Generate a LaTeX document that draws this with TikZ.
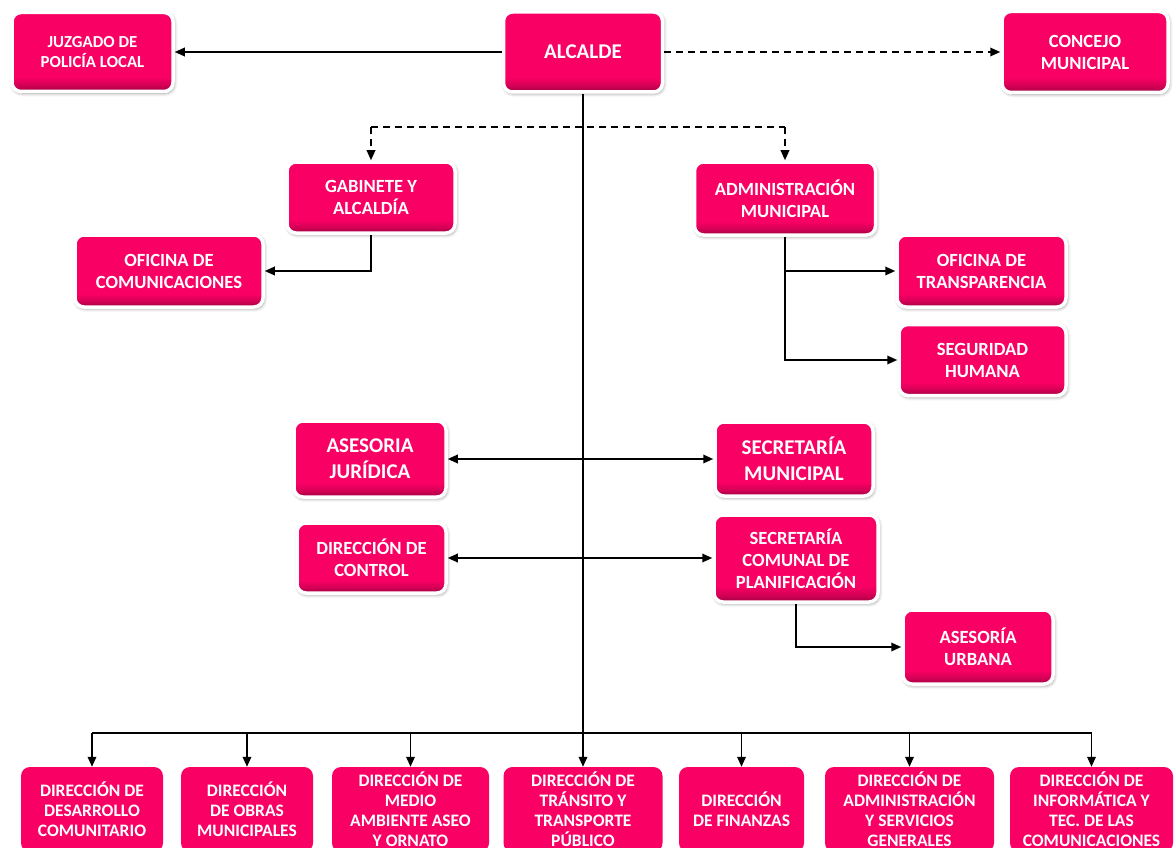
\documentclass[tikz,border=0pt]{standalone}
\usepackage{fontspec}
\setmainfont{Carlito}
\usetikzlibrary{arrows.meta,shadows.blur}
\definecolor{rosa}{RGB}{248,0,100}
\pgfdeclareverticalshading{boxshade}{100bp}{color(0bp)=(rosa!65!black); color(25bp)=(rosa!65!black);
  color(29bp)=(rosa!85!black); color(34bp)=(rosa); color(100bp)=(rosa)}
\tikzstyle{box}=[rectangle, rounded corners=9pt, shading=boxshade, draw=white, line width=3.5pt,
  blur shadow={shadow blur radius=3.5pt, shadow xshift=1pt, shadow yshift=-1.5pt, shadow opacity=45},
  text=white, align=center, inner sep=2pt, font=\fontsize{18.6}{22}\selectfont\bfseries]
\tikzstyle{dirbox}=[rectangle, rounded corners=9pt, fill=rosa, draw=none,
  text=white, align=center, inner sep=2pt, font=\fontsize{17.5}{20}\selectfont\bfseries]
\tikzstyle{small}=[font=\fontsize{16.8}{20}\selectfont\bfseries]
\tikzstyle{big}=[font=\fontsize{21}{26}\selectfont\bfseries]
\tikzstyle{link}=[line width=1.8pt, black]
\tikzstyle{tip}=[-{Triangle[length=10pt,width=8.5pt]}]

\begin{document}
\begin{tikzpicture}[x=1pt, y=-1pt]
\path[use as bounding box, clip] (0,0) rectangle (1175,848);
% Top row
    \node[box, small, minimum width=161pt, minimum height=79pt] (juzgado) at (92.5,52) {JUZGADO DE\\POLICÍA LOCAL};
    \node[box, big, minimum width=159pt, minimum height=80pt] (alcalde) at (583,52) {ALCALDE};
    \node[box, minimum width=166pt, minimum height=81pt] (concejo) at (1085,52) {CONCEJO\\MUNICIPAL};
% Second level
    \node[box, minimum width=168pt, minimum height=71pt] (gabinete) at (371,197.5) {GABINETE Y\\ALCALDÍA};
    \node[box, minimum width=181pt, minimum height=73pt] (admin) at (785,198.5) {ADMINISTRACIÓN\\MUNICIPAL};
    \node[box, minimum width=188pt, minimum height=72pt] (ofcom) at (169,271) {OFICINA DE\\COMUNICACIONES};
    \node[box, minimum width=169pt, minimum height=72pt] (transp) at (981.5,271) {OFICINA DE\\TRANSPARENCIA};
    \node[box, minimum width=167pt, minimum height=71pt] (seguridad) at (982.5,360) {SEGURIDAD\\HUMANA};
% Staff units
    \node[box, big, minimum width=152pt, minimum height=76pt] (asesoria) at (370,459) {ASESORIA\\JURÍDICA};
    \node[box, big, minimum width=158pt, minimum height=74pt] (secmun) at (794,459) {SECRETARÍA\\MUNICIPAL};
    \node[box, minimum width=149pt, minimum height=70pt] (control) at (371.5,558) {DIRECCIÓN DE\\CONTROL};
    \node[box, minimum width=164pt, minimum height=87pt] (seccom) at (796,558.5) {SECRETARÍA\\COMUNAL DE\\PLANIFICACIÓN};
    \node[box, minimum width=150pt, minimum height=74pt] (urbana) at (978,647) {ASESORÍA\\URBANA};
% Directions
    \node[dirbox, minimum width=142pt, minimum height=85pt] (d1) at (92,809.5) {DIRECCIÓN DE\\DESARROLLO\\COMUNITARIO};
    \node[dirbox, minimum width=132pt, minimum height=85pt] (d2) at (247,809.5) {DIRECCIÓN\\DE OBRAS\\MUNICIPALES};
    \node[dirbox, minimum width=157pt, minimum height=85pt] (d3) at (410.5,809.5) {DIRECCIÓN DE\\MEDIO\\AMBIENTE ASEO\\Y ORNATO};
    \node[dirbox, minimum width=159pt, minimum height=85pt] (d4) at (583,809.5) {DIRECCIÓN DE\\TRÁNSITO Y\\TRANSPORTE\\PÚBLICO};
    \node[dirbox, minimum width=125pt, minimum height=85pt] (d5) at (741.5,809.5) {DIRECCIÓN\\DE FINANZAS};
    \node[dirbox, minimum width=169pt, minimum height=85pt] (d6) at (909.5,809.5) {DIRECCIÓN DE\\ADMINISTRACIÓN\\Y SERVICIOS\\GENERALES};
    \node[dirbox, minimum width=163pt, minimum height=85pt] (d7) at (1091.5,809.5) {DIRECCIÓN DE\\INFORMÁTICA Y\\TEC. DE LAS\\COMUNICACIONES};
% Lines
    \coordinate (dash) at (583,127);
    \coordinate (bar) at (583,733);
    \draw[link, tip] (alcalde.west) -- (alcalde.west -| juzgado.east);
    \draw[link, tip, dash pattern=on 7pt off 5pt] (alcalde.east) -- (alcalde.east -| concejo.west);
    \draw[link] (alcalde.south) -- (bar);
    \draw[link, dash pattern=on 7pt off 5pt] (gabinete.north |- dash) -- (admin.north |- dash);
    \draw[link, tip, dash pattern=on 7pt off 5pt] (gabinete.north |- dash) -- (gabinete.north);
    \draw[link, tip, dash pattern=on 7pt off 5pt] (admin.north |- dash) -- (admin.north);
    \draw[link, tip] (gabinete.south) |- (ofcom.east);
    \draw[link, tip] (admin.south) |- (transp.west);
    \draw[link, tip] (admin.south) |- (seguridad.west);
    \draw[link, {Triangle[length=10pt,width=8.5pt]}-{Triangle[length=10pt,width=8.5pt]}] (asesoria.east) -- (secmun.west);
    \draw[link, {Triangle[length=10pt,width=8.5pt]}-{Triangle[length=10pt,width=8.5pt]}] (control.east) -- (control.east -| seccom.west);
    \draw[link, tip] (seccom.south) |- (urbana.west);
    \draw[link] (d1.north |- bar) -- (d7.north |- bar);
    \foreach \n in {d1,d2,d3,d4,d5,d6,d7}
        \draw[link, tip] (\n.north |- bar) -- (\n.north);
\end{tikzpicture}
\end{document}
